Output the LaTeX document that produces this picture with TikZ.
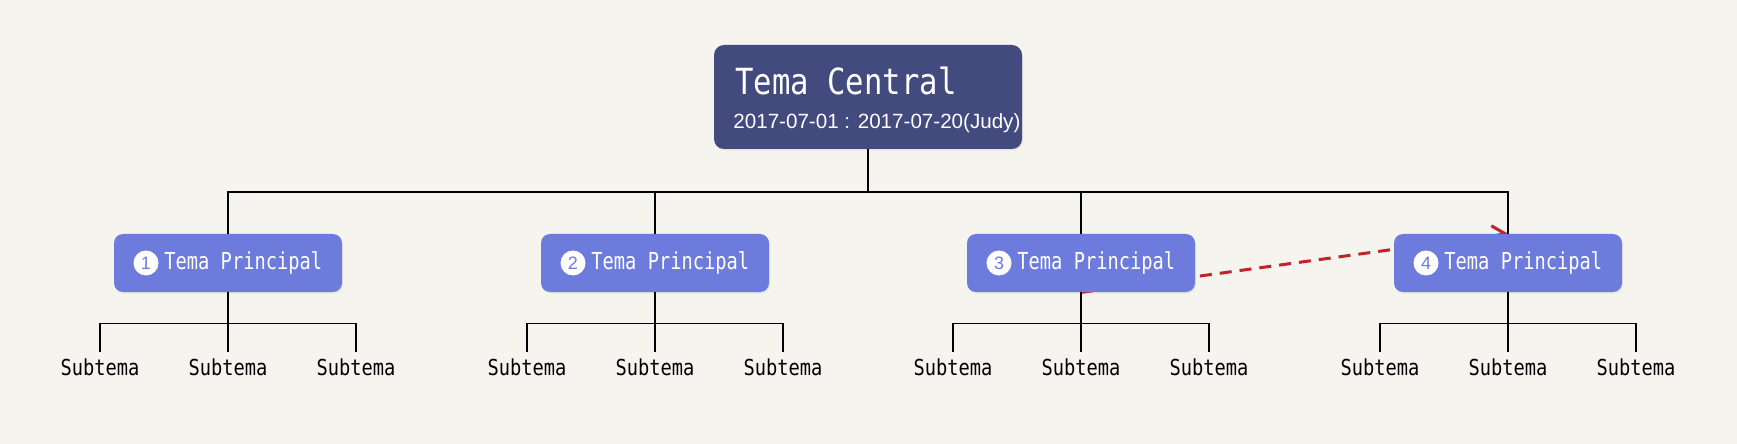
\documentclass[tikz,border=0pt]{standalone}
\usepackage{fontspec}
\setmainfont{Liberation Sans}
\newfontfamily\monofont[FakeStretch=0.85]{DejaVu Sans Mono}
\newfontfamily\narrowmono[FakeStretch=0.8]{DejaVu Sans Mono}
\usetikzlibrary{backgrounds,shadows,arrows.meta}
\definecolor{paper}{HTML}{F5F4EE}
\definecolor{centralblue}{HTML}{434A7D}
\definecolor{mainblue}{HTML}{6D7BDC}
\definecolor{linkred}{HTML}{C0232A}
\begin{document}
\begin{tikzpicture}[x=0.5pt,y=-0.5pt,
    central/.style={fill=centralblue, rounded corners=5pt, minimum width=154pt, minimum height=52pt,
        drop shadow={opacity=0.12, shadow xshift=0.5pt, shadow yshift=-0.8pt}},
    topic/.style={fill=mainblue, rounded corners=4.5pt, minimum width=114pt, minimum height=29pt,
        drop shadow={opacity=0.12, shadow xshift=0.5pt, shadow yshift=-0.8pt}},
    badge/.style={circle, fill=white, inner sep=0pt, minimum size=12.5pt, text=mainblue, font=\fontsize{9}{9}\selectfont},
    topictext/.style={anchor=west, inner sep=0pt, text=white, font=\narrowmono\fontsize{11.7}{12}\selectfont},
    subtext/.style={inner xsep=0pt, inner ysep=3.5pt, font=\monofont\fontsize{11}{12}\selectfont},
    branch/.style={line width=0.75pt},
    link/.style={draw=linkred, line width=1.5pt, dash pattern=on 6pt off 4pt, -{Straight Barb[length=6.5pt,width=10pt]}}
]
    \useasboundingbox (0,0) rectangle (1737,444);
    % central topic
    \node[central] (central) at (868,97) {};
    \node[anchor=base west, inner sep=0pt, text=white, font=\monofont\fontsize{18}{19}\selectfont] (title) at (735,95) {Tema Central};
    \node[anchor=base west, inner sep=0pt, text=white, font=\fontsize{10.3}{11}\selectfont] (dates) at (733,129) {2017-07-01 : 2017-07-20(Judy)};
    % main topics and subtopics
    \foreach \i/\x in {1/228,2/655,3/1081,4/1508} {
        \node[topic] (t\i) at (\x,263) {};
        \node[badge] (b\i) at ({\x-82},263) {\i};
        \node[topictext] (l\i) at ({\x-64},263) {Tema Principal};
        \draw[branch, line width=1pt] (central.south) -- ++(0,43) -| (t\i.north);
        \foreach \j/\dx in {a/-128,b/0,c/128} {
            \node[subtext] (s\i\j) at ({\x+\dx},367.5) {Subtema};
            \draw[branch] (t\i.south) -- ++(0,31) -| (s\i\j.north);
        }
    }
    \begin{scope}[on background layer]
        \fill[paper] (0,0) rectangle (1737,444);
        \draw[link] (t3.south) -- (t4.north);
    \end{scope}
\end{tikzpicture}
\end{document}
